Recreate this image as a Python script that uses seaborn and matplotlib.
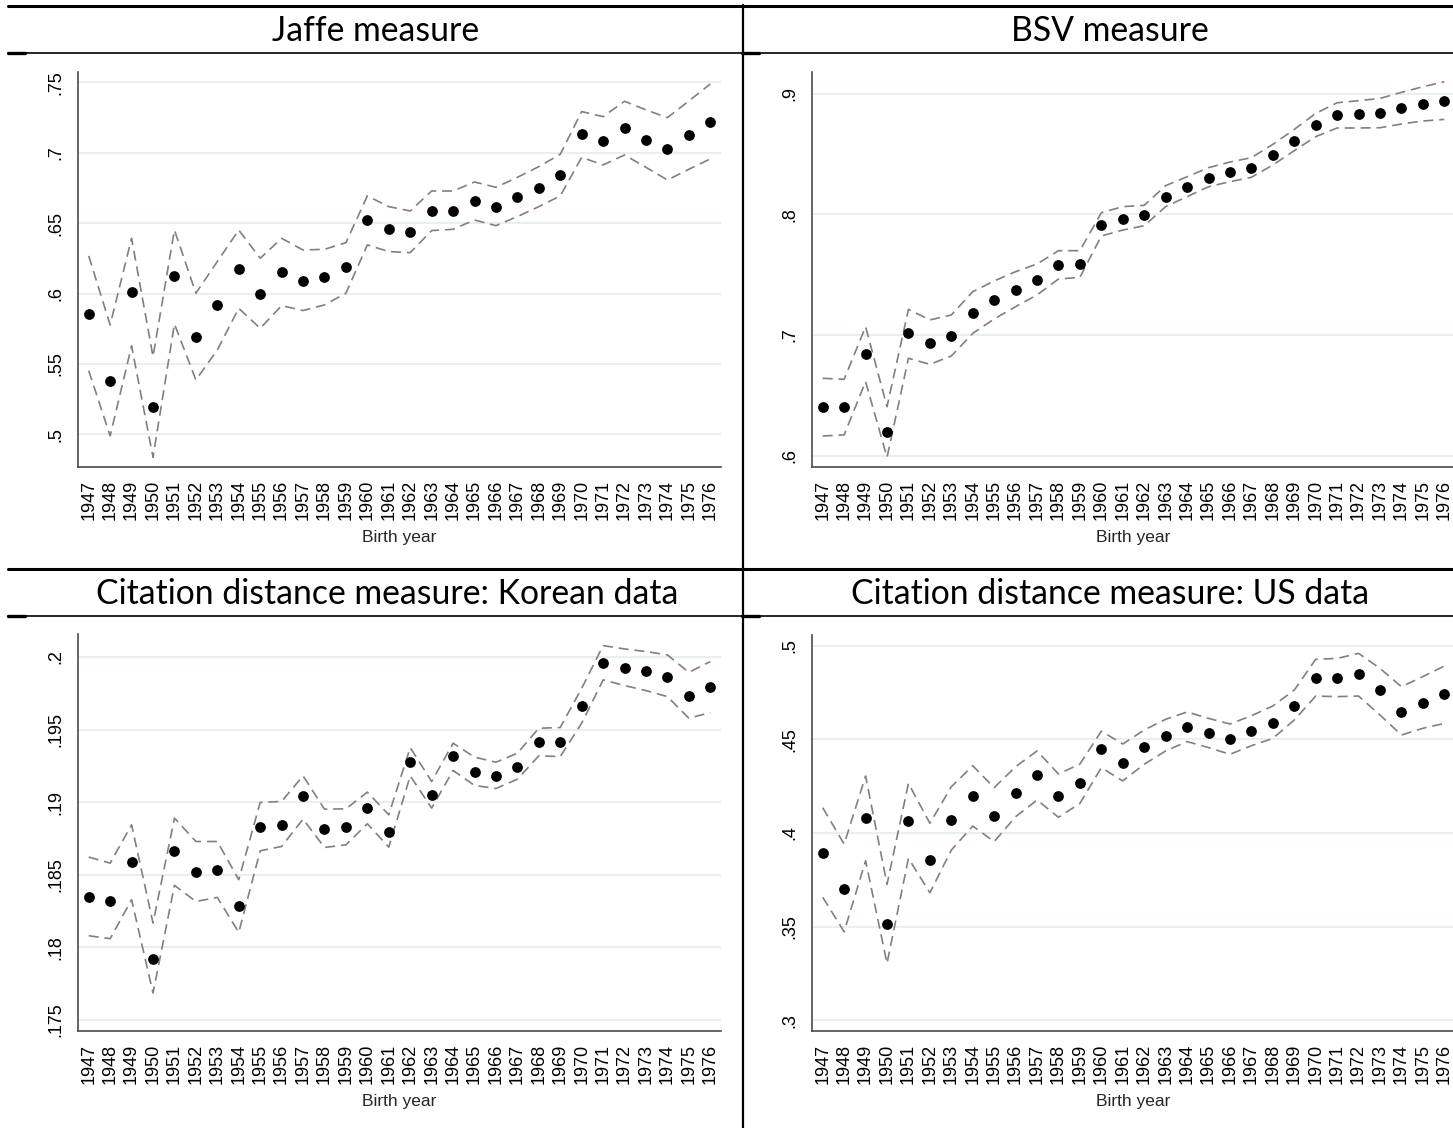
import numpy as np
import pandas as pd
import matplotlib
matplotlib.use("Agg")
import matplotlib.pyplot as plt
from matplotlib.lines import Line2D
import seaborn as sns

years = list(range(1947, 1977))

titles = ["Jaffe measure", "BSV measure",
          "Citation distance measure: Korean data", "Citation distance measure: US data"]

jaffe_mean = [0.5857, 0.5379, 0.6009, 0.5194, 0.6125, 0.5694, 0.5921, 0.6177, 0.5999, 0.6156,
              0.6092, 0.6115, 0.6186, 0.6520, 0.6456, 0.6440, 0.6586, 0.6589, 0.6660, 0.6617,
              0.6683, 0.6752, 0.6840, 0.7133, 0.7081, 0.7176, 0.7093, 0.7024, 0.7126, 0.7218]
jaffe_hi = [0.6267, 0.5777, 0.6392, 0.5552, 0.6451, 0.6002, 0.6227, 0.6451, 0.6250, 0.6392,
            0.6309, 0.6314, 0.6361, 0.6693, 0.6617, 0.6586, 0.6728, 0.6728, 0.6792, 0.6754,
            0.6825, 0.6901, 0.6989, 0.7292, 0.7256, 0.7365, 0.7304, 0.7249, 0.7367, 0.7488]
jaffe_lo = [0.5452, 0.4989, 0.5628, 0.4837, 0.5784, 0.5386, 0.5599, 0.5895, 0.5753, 0.5914,
            0.5879, 0.5919, 0.6002, 0.6345, 0.6298, 0.6290, 0.6447, 0.6456, 0.6522, 0.6482,
            0.6546, 0.6617, 0.6693, 0.6967, 0.6913, 0.6984, 0.6896, 0.6806, 0.6882, 0.6956]

bsv_mean = [0.6403, 0.6403, 0.6843, 0.6199, 0.7019, 0.6937, 0.6992, 0.7185, 0.7287, 0.7373,
            0.7453, 0.7583, 0.7589, 0.7912, 0.7964, 0.7992, 0.8147, 0.8227, 0.8304, 0.8351,
            0.8387, 0.8492, 0.8608, 0.8738, 0.8820, 0.8832, 0.8840, 0.8881, 0.8917, 0.8942]
bsv_hi = [0.6641, 0.6633, 0.7069, 0.6406, 0.7213, 0.7125, 0.7166, 0.7359, 0.7448, 0.7525,
          0.7589, 0.7699, 0.7699, 0.8014, 0.8064, 0.8075, 0.8238, 0.8312, 0.8387, 0.8434,
          0.8470, 0.8580, 0.8704, 0.8837, 0.8925, 0.8942, 0.8961, 0.9011, 0.9058, 0.9099]
bsv_lo = [0.6163, 0.6172, 0.6614, 0.5987, 0.6807, 0.6757, 0.6826, 0.7014, 0.7133, 0.7235,
          0.7332, 0.7464, 0.7478, 0.7821, 0.7870, 0.7906, 0.8064, 0.8147, 0.8229, 0.8271,
          0.8307, 0.8409, 0.8528, 0.8644, 0.8716, 0.8716, 0.8718, 0.8749, 0.8774, 0.8787]

kor_mean = [0.18349, 0.18316, 0.18587, 0.17920, 0.18667, 0.18521, 0.18534, 0.18282, 0.18828, 0.18844,
            0.19039, 0.18817, 0.18828, 0.18959, 0.18796, 0.19278, 0.19046, 0.19319, 0.19206, 0.19183,
            0.19245, 0.19411, 0.19411, 0.19663, 0.19961, 0.19927, 0.19904, 0.19862, 0.19734, 0.19791]
kor_hi = [0.18622, 0.18580, 0.18844, 0.18167, 0.18890, 0.18729, 0.18729, 0.18466, 0.18998, 0.19005,
          0.19181, 0.18952, 0.18954, 0.19069, 0.18913, 0.19376, 0.19142, 0.19406, 0.19310, 0.19275,
          0.19337, 0.19509, 0.19514, 0.19784, 0.20078, 0.20055, 0.20037, 0.20014, 0.19894, 0.19968]
kor_lo = [0.18080, 0.18060, 0.18328, 0.17686, 0.18427, 0.18316, 0.18344, 0.18103, 0.18665, 0.18695,
          0.18883, 0.18688, 0.18706, 0.18851, 0.18690, 0.19181, 0.18959, 0.19218, 0.19115, 0.19094,
          0.19158, 0.19319, 0.19314, 0.19544, 0.19842, 0.19803, 0.19768, 0.19727, 0.19578, 0.19617]

us_mean = [0.3895, 0.3703, 0.4078, 0.3512, 0.4064, 0.3854, 0.4071, 0.4197, 0.4092, 0.4213,
           0.4310, 0.4197, 0.4265, 0.4447, 0.4375, 0.4457, 0.4520, 0.4566, 0.4534, 0.4502,
           0.4544, 0.4589, 0.4680, 0.4827, 0.4829, 0.4849, 0.4765, 0.4648, 0.4696, 0.4742]
us_hi = [0.4135, 0.3941, 0.4304, 0.3726, 0.4265, 0.4052, 0.4247, 0.4359, 0.4242, 0.4354,
         0.4438, 0.4315, 0.4368, 0.4544, 0.4475, 0.4550, 0.4607, 0.4646, 0.4612, 0.4582,
         0.4626, 0.4678, 0.4763, 0.4927, 0.4932, 0.4959, 0.4879, 0.4781, 0.4835, 0.4891]
us_lo = [0.3657, 0.3473, 0.3852, 0.3304, 0.3865, 0.3681, 0.3909, 0.4037, 0.3954, 0.4087,
         0.4176, 0.4084, 0.4158, 0.4349, 0.4278, 0.4367, 0.4438, 0.4488, 0.4456, 0.4420,
         0.4466, 0.4505, 0.4603, 0.4731, 0.4728, 0.4731, 0.4630, 0.4523, 0.4559, 0.4585]

yticks = [[0.5, 0.55, 0.6, 0.65, 0.7, 0.75],
          [0.6, 0.7, 0.8, 0.9],
          [0.175, 0.18, 0.185, 0.19, 0.195, 0.2],
          [0.3, 0.35, 0.4, 0.45, 0.5]]
yticklabels = [[".5", ".55", ".6", ".65", ".7", ".75"],
               [".6", ".7", ".8", ".9"],
               [".175", ".18", ".185", ".19", ".195", ".2"],
               [".3", ".35", ".4", ".45", ".5"]]
ylims = [(0.4768, 0.7573), (0.5906, 0.918), (0.17424, 0.20158), (0.2943, 0.5057)]

series = [(jaffe_mean, jaffe_lo, jaffe_hi), (bsv_mean, bsv_lo, bsv_hi),
          (kor_mean, kor_lo, kor_hi), (us_mean, us_lo, us_hi)]

sns.set_style("white")
plt.rcParams["font.family"] = ["Liberation Sans", "DejaVu Sans"]

W, H = 1453, 1128
fig = plt.figure(figsize=(W / 100, H / 100), dpi=100)

# axes boxes in pixels: (left, top, right, bottom)
boxes = [(78, 72, 721, 467), (812, 72, 1455, 467),
         (78, 634, 721, 1031), (812, 635, 1455, 1031)]

grid_c = "#e6eef0"
spine_c = "#4a4a4a"

for i, (l, t, r, b) in enumerate(boxes):
    ax = fig.add_axes([l / W, 1 - b / H, (r - l) / W, (b - t) / H])
    mean, lo, hi = series[i]
    df = pd.DataFrame({"year": years, "mean": mean, "lo": lo, "hi": hi})
    for yv in yticks[i]:
        ax.axhline(yv, color=grid_c, lw=1.3, zorder=0)
    for col in ["lo", "hi"]:
        sns.lineplot(data=df, x="year", y=col, ax=ax, color="#808080", lw=1.2,
                     dashes=False, linestyle=(0, (6, 3.5)), zorder=2)
    sns.scatterplot(data=df, x="year", y="mean", ax=ax, color="black", s=60,
                    edgecolor="black", linewidth=0, zorder=3)
    ax.set_xlim(1946.5, 1976.5)
    ax.set_ylim(*ylims[i])
    ax.set_xticks(years)
    ax.set_xticklabels([str(y) for y in years], rotation=90, fontsize=13)
    ax.set_yticks(yticks[i])
    ax.set_yticklabels(yticklabels[i], rotation=90, va="center", fontsize=13)
    ax.tick_params(axis="both", which="both", length=5, width=1, color=spine_c,
                   labelcolor="black", direction="out")
    ax.tick_params(axis="y", pad=5)
    ax.tick_params(axis="x", pad=4)
    for s in ["top", "right"]:
        ax.spines[s].set_visible(False)
    for s in ["left", "bottom"]:
        ax.spines[s].set_color(spine_c)
        ax.spines[s].set_linewidth(1.2)
    ax.set_xlabel("Birth year", fontsize=12.5, labelpad=7)
    ax.set_ylabel("")
    ax.grid(False)

# title row text
title_pos = [(376, 31), (1110, 31), (387, 594), (1110, 594)]
for (x, y), t in zip(title_pos, titles):
    fig.text(x / W, 1 - y / H, t, ha="center", va="center", fontsize=24.3,
             family=["Lato", "DejaVu Sans"], color="black")

# table borders
def hline(y, x0, x1, lw):
    fig.add_artist(Line2D([x0 / W, x1 / W], [1 - y / H, 1 - y / H], color="black",
                          lw=lw, transform=fig.transFigure))

def vline(x, y0, y1, lw):
    fig.add_artist(Line2D([x / W, x / W], [1 - y0 / H, 1 - y1 / H], color="black",
                          lw=lw, transform=fig.transFigure))

hline(5.7, 8, W, 2.2)
hline(52.7, 8, W, 1.2)
hline(569, 8, W, 2.2)
hline(616, 8, W, 1.2)
hline(52.7, 8, 25, 2.4)
hline(616, 8, 25, 2.4)
hline(52.7, 742, 759, 2.4)
hline(616, 742, 759, 2.4)
vline(742.7, 5, H, 1.6)

fig.savefig("out.png", dpi=100)
